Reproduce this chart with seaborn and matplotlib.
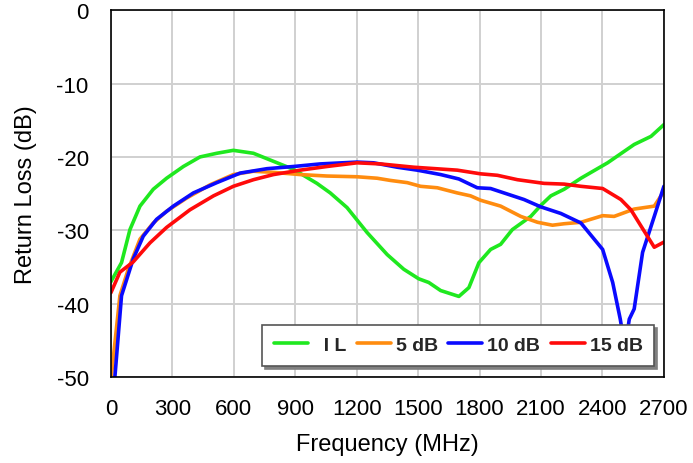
import numpy as np
import pandas as pd
import seaborn as sns
import matplotlib
matplotlib.use("Agg")
import matplotlib.pyplot as plt
from matplotlib.lines import Line2D

# ---- data ----
il_freq = [0, 52, 93, 142, 207, 272, 354, 435, 517, 598, 696, 794, 892, 1006, 1071, 1153,
           1251, 1349, 1430, 1503, 1552, 1610, 1699, 1748, 1797, 1854, 1903, 1960, 2050,
           2099, 2148, 2213, 2295, 2425, 2555, 2637, 2700]
il_vals = [-37.0, -34.4, -29.9, -26.7, -24.4, -22.9, -21.3, -20.0, -19.5, -19.1, -19.5, -20.6,
           -21.7, -23.6, -24.9, -26.9, -30.3, -33.3, -35.3, -36.6, -37.1, -38.2, -39.0, -37.8,
           -34.4, -32.6, -31.9, -29.9, -28.1, -26.6, -25.3, -24.4, -22.9, -20.8, -18.3, -17.2,
           -15.6]

db5_freq = [0, 44, 85, 142, 207, 272, 370, 484, 598, 696, 794, 924, 1055, 1202, 1300, 1365,
            1447, 1512, 1594, 1691, 1756, 1805, 1903, 2001, 2083, 2156, 2213, 2295, 2401, 2457,
            2555, 2653, 2700]
db5_vals = [-50.5, -38.9, -35.3, -31.2, -29.0, -27.4, -25.6, -23.8, -22.4, -21.95, -22.1, -22.4,
            -22.6, -22.7, -22.9, -23.2, -23.5, -24.0, -24.2, -24.9, -25.3, -25.9, -26.7, -28.1,
            -28.9, -29.3, -29.1, -28.9, -28.0, -28.1, -27.1, -26.7, -24.7]

db10_freq = [18, 52, 93, 109, 158, 223, 305, 403, 517, 631, 762, 892, 1022, 1202, 1283, 1398,
             1496, 1610, 1699, 1789, 1854, 1919, 2017, 2099, 2197, 2295, 2401, 2450, 2487, 2510,
             2531, 2555, 2596, 2653, 2700]
db10_vals = [-50.5, -38.9, -35.3, -33.9, -30.8, -28.5, -26.7, -24.9, -23.5, -22.2, -21.6, -21.3,
             -20.95, -20.7, -20.8, -21.4, -21.8, -22.4, -23.0, -24.2, -24.3, -24.9, -25.8, -26.8,
             -27.7, -29.0, -32.6, -37.1, -42.1, -46.0, -42.1, -40.7, -33.0, -28.1, -24.0]

db15_freq = [0, 44, 109, 191, 272, 386, 501, 598, 696, 794, 924, 1055, 1202, 1316, 1479, 1691,
             1805, 1887, 1985, 2115, 2213, 2295, 2401, 2490, 2539, 2588, 2653, 2700]
db15_vals = [-38.5, -35.7, -34.3, -31.7, -29.6, -27.2, -25.3, -24.0, -23.1, -22.4, -21.8, -21.3,
             -20.8, -20.95, -21.4, -21.8, -22.3, -22.5, -23.1, -23.6, -23.7, -24.0, -24.3, -25.8,
             -27.2, -29.4, -32.3, -31.6]

series_names = ["I L", "5 dB", "10 dB", "15 dB"]
series_colors = ["#1fe81f", "#ff8c0f", "#0a0aff", "#ff0a0a"]
x_ticks = [0, 300, 600, 900, 1200, 1500, 1800, 2100, 2400, 2700]
y_ticks = [0, -10, -20, -30, -40, -50]

frames = []
for name, f, v in zip(series_names,
                      [il_freq, db5_freq, db10_freq, db15_freq],
                      [il_vals, db5_vals, db10_vals, db15_vals]):
    frames.append(pd.DataFrame({"freq": f, "rl": v, "series": name}))
df = pd.concat(frames, ignore_index=True)

sns.set_theme(style="white")
plt.rcParams["font.family"] = ["Liberation Sans", "DejaVu Sans"]

fig = plt.figure(figsize=(6.93, 4.64), dpi=100)
ax = fig.add_axes([0.160, 0.185, 0.798, 0.791])

sns.lineplot(data=df, x="freq", y="rl", hue="series", hue_order=series_names,
             palette=dict(zip(series_names, series_colors)), sort=False,
             estimator=None, linewidth=2.6, ax=ax, legend=False)

ax.set_xlim(0, 2700)
ax.set_ylim(-50, 0)
ax.set_xticks(x_ticks)
ax.set_yticks(y_ticks)
ax.set_xticklabels([str(t) for t in x_ticks])
ax.set_yticklabels([str(t) for t in y_ticks])
ax.grid(True, color="#d0d0d0", linewidth=1.4)
ax.set_axisbelow(True)
for s in ax.spines.values():
    s.set_visible(True)
    s.set_color("black")
    s.set_linewidth(1.2)
ax.tick_params(axis="both", length=0, labelsize=16, colors="black")
ax.tick_params(axis="y", pad=16)
ax.tick_params(axis="x", pad=15)
ax.set_xlabel("Frequency (MHz)", fontsize=17, color="black", labelpad=10)
ax.set_ylabel("Return Loss (dB)", fontsize=17, color="black", labelpad=14)

handles = [Line2D([0], [0], color=c, lw=2.6) for c in series_colors]
labels = ["  I L", "5 dB", "10 dB", "15 dB"]
leg = ax.legend(handles, labels, ncol=4, loc="lower right",
                bbox_to_anchor=(0.99, 0.02), frameon=True, fancybox=False,
                shadow={"color": "#808080", "alpha": 1.0}, edgecolor="#555555",
                prop={"weight": "bold", "size": 14}, handlelength=1.75,
                handletextpad=0.25, columnspacing=0.55, borderpad=0.6,
                borderaxespad=0.2)
leg.get_frame().set_linewidth(1.2)

fig.savefig("out.png", dpi=100)
